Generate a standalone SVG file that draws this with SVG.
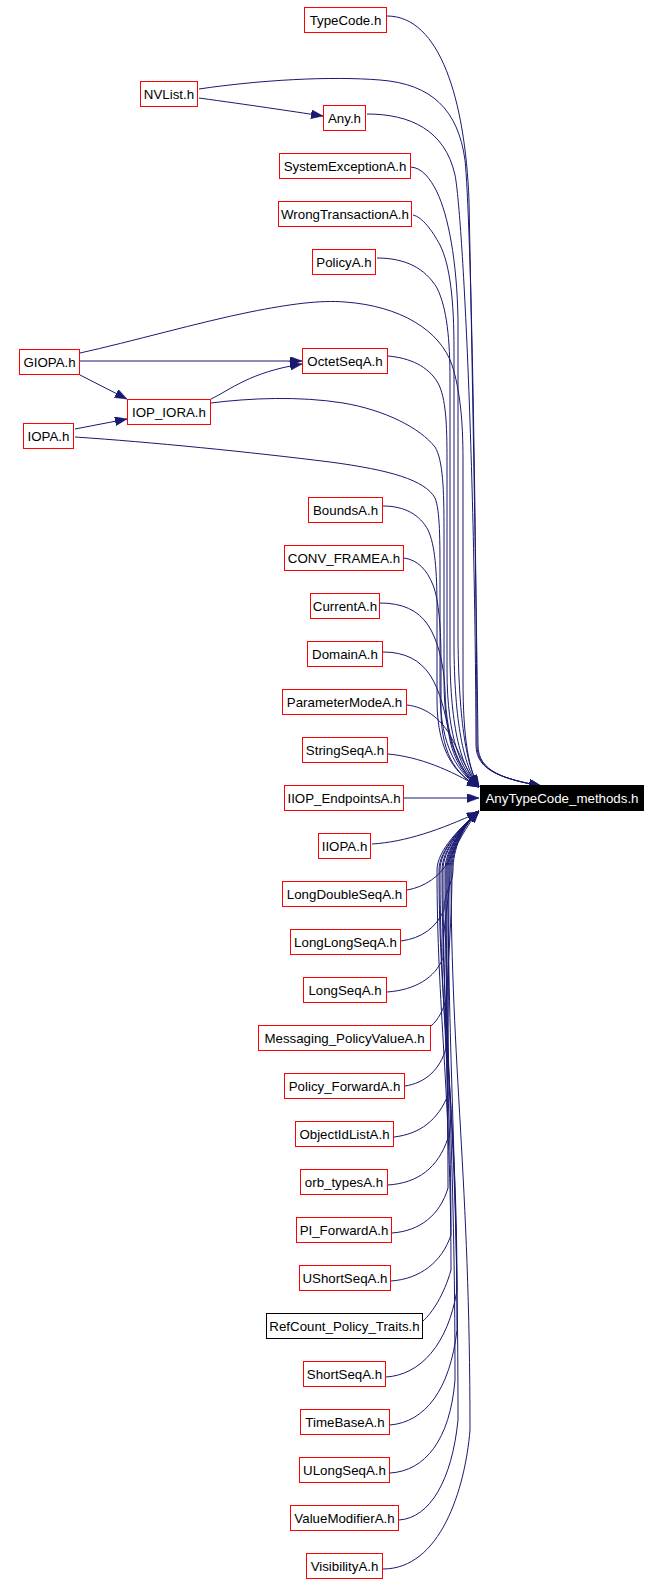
<svg xmlns="http://www.w3.org/2000/svg" width="662" height="1584" viewBox="0 0 662 1584">
<style>
.n rect{fill:#fff;stroke:#ff0000;stroke-width:1}
.n.k rect{stroke:#000}
.n text{font-family:"Liberation Sans",Arial,sans-serif;font-size:13.3px;text-anchor:middle;fill:#000}
.t rect{fill:#000;stroke:#000}
.t text{font-family:"Liberation Sans",Arial,sans-serif;font-size:13.3px;text-anchor:middle;fill:#fff}
.e path{fill:none;stroke:#191970;stroke-width:1;marker-end:url(#a)}
</style>
<defs>
<marker id="a" markerUnits="userSpaceOnUse" markerWidth="12" markerHeight="9" refX="12" refY="4.5" orient="auto" viewBox="0 0 12 9"><path d="M0,0L12,4.5L0,9z" fill="#191970" stroke="#191970" stroke-width="0.5"/></marker>
</defs>
<rect x="0" y="0" width="662" height="1584" fill="#fff"/>
<g id="edges" class="e">
<path d="M387,16 C440,16 465,100 469,200 C473,400 477,650 478,745 C478,772 505,779 541,786"/>
<path d="M199,89 C260,80 330,76 380,80 C432,84 458,110 465,160 C471,220 476,500 477,745 C477,772 505,779 541,786"/>
<path d="M367,114 C410,114 445,130 455,175 C462,210 475,450 476,745 C476,772 505,779 541,786"/>
<path d="M199,98 C250,105 290,111 323,116"/>
<path d="M411,167 C422,168 430,178 437,192 C448,215 457,260 458,320 L458,640 C459,725 467,767 479,787"/>
<path d="M413,215 C422,217 432,230 440,245 C450,265 454,300 454,350 L454,650 C455,730 465,768 479,787"/>
<path d="M377,258 C405,258 425,268 437,288 C447,308 450,340 450,380 L450,660 C451,735 463,770 479,787"/>
<path d="M80,353 C130,342 200,322 250,312 C290,304 320,300 345,302 C400,306 440,330 452,365 C460,390 463,420 463,460 L463,680 C463,740 469,770 479,787"/>
<path d="M80,361 L302,361"/>
<path d="M80,375 L127,399"/>
<path d="M211,399 C230,390 250,372 302,364"/>
<path d="M75,429 L127,419"/>
<path d="M388,356 C410,358 428,366 438,383 C446,398 447,425 447,460 L447,670 C447,740 462,771 479,787"/>
<path d="M211,403 C250,398 300,396 343,403 C385,410 420,428 435,447 C443,460 444,490 444,530 L444,680 C444,745 461,772 479,787"/>
<path d="M75,437 C150,442 250,452 330,462 C390,470 425,480 435,498 C440,510 440,540 440,580 L440,690 C440,750 460,774 479,787"/>
<path d="M383,506 C405,506 420,515 428,530 C435,545 437,570 437,610 L437,700 C437,755 458,776 479,787"/>
<path d="M404,558 C418,560 427,570 433,585 C439,600 441,630 441,660 L441,710 C441,760 461,777 479,787"/>
<path d="M380,603 C402,603 418,610 428,625 C438,640 444,665 445,690 C446,745 463,775 479,787"/>
<path d="M383,652 C405,652 420,660 430,675 C440,690 446,715 449,735 C453,760 466,778 479,787"/>
<path d="M407,705 C425,707 440,718 450,735 C458,750 466,770 479,787"/>
<path d="M388,754 C420,757 450,770 479,787"/>
<path d="M404,798 L479,798"/>
<path d="M372,844 C405,842 440,830 479,812"/>
<path d="M407,890 C425,887 440,876 448,862 C456,846 466,826 479,811"/>
<path d="M401,941 C422,938 436,928 444,910 C444,892 453,884 453,870 C453,850 462,826 479,811"/>
<path d="M387,992 C415,990 435,978 443,958 C443,918 450,901 450,870 C450,850 462,826 479,811"/>
<path d="M431,1026 C438,1020 444,1010 447,995 C447,939 447,914 447,870 C447,850 462,826 479,811"/>
<path d="M405,1086 C425,1083 440,1070 446,1048 C446,968 452,932 452,870 C452,850 462,826 479,811"/>
<path d="M394,1137 C420,1134 438,1120 448,1095 C448,994 449,949 449,870 C449,850 462,826 479,811"/>
<path d="M388,1185 C418,1183 438,1168 448,1138 C448,1017 446,964 446,870 C446,850 462,826 479,811"/>
<path d="M392,1233 C420,1231 440,1215 448,1188 C448,1045 443,981 443,870 C443,850 462,826 479,811"/>
<path d="M391,1281 C420,1279 442,1262 451,1235 C451,1071 440,998 440,870 C440,850 462,826 479,811"/>
<path d="M423,1321 C432,1313 444,1295 451,1270 C451,1090 437,1010 437,870 C437,850 462,826 479,811"/>
<path d="M386,1377 C420,1375 448,1345 457,1290 C457,1101 439,1017 439,870 C439,850 462,826 479,811"/>
<path d="M390,1425 C425,1422 450,1390 457,1330 C457,1123 442,1031 442,870 C442,850 462,826 479,811"/>
<path d="M390,1473 C425,1471 450,1440 455,1380 C455,1150 445,1048 445,870 C445,850 462,826 479,811"/>
<path d="M399,1520 C430,1518 452,1480 458,1420 C458,1172 448,1062 448,870 C448,850 462,826 479,811"/>
<path d="M383,1569 C440,1569 465,1490 470,1430 C470,1178 451,1066 451,870 C451,850 462,826 479,811"/>
</g>
<g id="n_TypeCode" class="n"><rect x="304.5" y="7.5" width="82" height="25"/><text x="345.5" y="25">TypeCode.h</text></g>
<g id="n_NVList" class="n"><rect x="140.5" y="81.5" width="57" height="25"/><text x="169" y="99">NVList.h</text></g>
<g id="n_Any" class="n"><rect x="323.5" y="105.5" width="42" height="25"/><text x="344.5" y="123">Any.h</text></g>
<g id="n_SystemExceptionA" class="n"><rect x="279.5" y="153.5" width="131" height="25"/><text x="345" y="171">SystemExceptionA.h</text></g>
<g id="n_WrongTransactionA" class="n"><rect x="278.5" y="201.5" width="133" height="25"/><text x="345" y="219">WrongTransactionA.h</text></g>
<g id="n_PolicyA" class="n"><rect x="312.5" y="249.5" width="63" height="25"/><text x="344" y="267">PolicyA.h</text></g>
<g id="n_GIOPA" class="n"><rect x="19.5" y="349.5" width="60" height="25"/><text x="49.5" y="367">GIOPA.h</text></g>
<g id="n_OctetSeqA" class="n"><rect x="302.5" y="348.5" width="85" height="25"/><text x="345" y="366">OctetSeqA.h</text></g>
<g id="n_IOP_IORA" class="n"><rect x="127.5" y="399.5" width="83" height="25"/><text x="169" y="417">IOP_IORA.h</text></g>
<g id="n_IOPA" class="n"><rect x="23.5" y="423.5" width="50" height="25"/><text x="48.5" y="441">IOPA.h</text></g>
<g id="n_BoundsA" class="n"><rect x="308.5" y="497.5" width="74" height="25"/><text x="345.5" y="515">BoundsA.h</text></g>
<g id="n_CONV_FRAMEA" class="n"><rect x="284.5" y="545.5" width="119" height="25"/><text x="344" y="563">CONV_FRAMEA.h</text></g>
<g id="n_CurrentA" class="n"><rect x="310.5" y="593.5" width="69" height="25"/><text x="345" y="611">CurrentA.h</text></g>
<g id="n_DomainA" class="n"><rect x="307.5" y="641.5" width="75" height="25"/><text x="345" y="659">DomainA.h</text></g>
<g id="n_ParameterModeA" class="n"><rect x="282.5" y="689.5" width="124" height="25"/><text x="344.5" y="707">ParameterModeA.h</text></g>
<g id="n_StringSeqA" class="n"><rect x="302.5" y="737.5" width="85" height="25"/><text x="345" y="755">StringSeqA.h</text></g>
<g id="n_IIOP_EndpointsA" class="n"><rect x="284.5" y="785.5" width="119" height="25"/><text x="344" y="803">IIOP_EndpointsA.h</text></g>
<g id="n_AnyTypeCode_methods" class="t"><rect x="480.5" y="785.5" width="163" height="25"/><text x="562" y="803">AnyTypeCode_methods.h</text></g>
<g id="n_IIOPA" class="n"><rect x="318.5" y="833.5" width="52" height="25"/><text x="344.5" y="851">IIOPA.h</text></g>
<g id="n_LongDoubleSeqA" class="n"><rect x="282.5" y="881.5" width="124" height="25"/><text x="344.5" y="899">LongDoubleSeqA.h</text></g>
<g id="n_LongLongSeqA" class="n"><rect x="290.5" y="929.5" width="110" height="25"/><text x="345.5" y="947">LongLongSeqA.h</text></g>
<g id="n_LongSeqA" class="n"><rect x="303.5" y="977.5" width="83" height="25"/><text x="345" y="995">LongSeqA.h</text></g>
<g id="n_Messaging_PolicyValueA" class="n"><rect x="258.5" y="1025.5" width="172" height="25"/><text x="344.5" y="1043">Messaging_PolicyValueA.h</text></g>
<g id="n_Policy_ForwardA" class="n"><rect x="284.5" y="1073.5" width="120" height="25"/><text x="344.5" y="1091">Policy_ForwardA.h</text></g>
<g id="n_ObjectIdListA" class="n"><rect x="295.5" y="1121.5" width="98" height="25"/><text x="344.5" y="1139">ObjectIdListA.h</text></g>
<g id="n_orb_typesA" class="n"><rect x="300.5" y="1169.5" width="87" height="25"/><text x="344" y="1187">orb_typesA.h</text></g>
<g id="n_PI_ForwardA" class="n"><rect x="296.5" y="1217.5" width="95" height="25"/><text x="344" y="1235">PI_ForwardA.h</text></g>
<g id="n_UShortSeqA" class="n"><rect x="299.5" y="1265.5" width="91" height="25"/><text x="345" y="1283">UShortSeqA.h</text></g>
<g id="n_RefCount_Policy_Traits" class="n k"><rect x="266.5" y="1313.5" width="156" height="25"/><text x="344.5" y="1331">RefCount_Policy_Traits.h</text></g>
<g id="n_ShortSeqA" class="n"><rect x="303.5" y="1361.5" width="82" height="25"/><text x="344.5" y="1379">ShortSeqA.h</text></g>
<g id="n_TimeBaseA" class="n"><rect x="300.5" y="1409.5" width="89" height="25"/><text x="345" y="1427">TimeBaseA.h</text></g>
<g id="n_ULongSeqA" class="n"><rect x="299.5" y="1457.5" width="90" height="25"/><text x="344.5" y="1475">ULongSeqA.h</text></g>
<g id="n_ValueModifierA" class="n"><rect x="290.5" y="1505.5" width="108" height="25"/><text x="344.5" y="1523">ValueModifierA.h</text></g>
<g id="n_VisibilityA" class="n"><rect x="306.5" y="1553.5" width="76" height="25"/><text x="344.5" y="1571">VisibilityA.h</text></g>
</svg>
